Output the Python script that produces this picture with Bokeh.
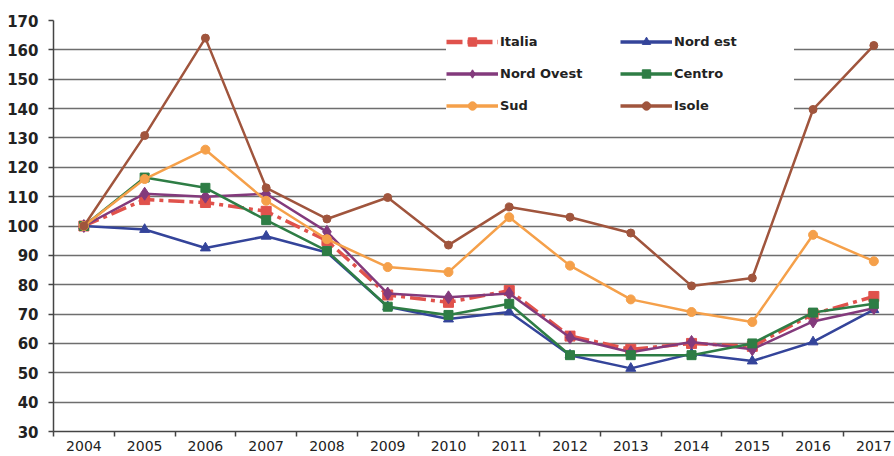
from bokeh.plotting import figure
from bokeh.models import Range1d, FixedTicker, Legend, LegendItem
from bokeh.embed import file_html
from bokeh.resources import INLINE

years = [2004, 2005, 2006, 2007, 2008, 2009, 2010, 2011, 2012, 2013, 2014, 2015, 2016, 2017]
italia = [100, 109, 108, 105, 95, 76.5, 74, 78, 62.5, 58, 60, 59, 70, 76]
nord_est = [100, 98.8, 92.5, 96.5, 91, 72.5, 68.3, 70.7, 56, 51.5, 56.5, 54, 60.5, 71.5]
nord_ovest = [100, 111, 110, 111, 98, 77, 75.7, 77, 62, 57, 60.5, 58, 67.5, 72]
centro = [100, 116.5, 113, 102, 91.5, 72.5, 69.7, 73.5, 56, 56, 56, 60, 70.5, 73.5]
sud = [100, 116, 126, 108.6, 95.5, 86, 84.3, 103, 86.5, 75, 70.7, 67.3, 97, 88]
isole = [100, 130.8, 164, 113, 102.4, 109.7, 93.5, 106.5, 103, 97.6, 79.6, 82.3, 139.7, 161.5]
y_ticks = [30, 40, 50, 60, 70, 80, 90, 100, 110, 120, 130, 140, 150, 160, 170]

p = figure(width=894, height=456, output_backend="svg", toolbar_location=None,
           x_range=Range1d(2003.5, 2017.34), y_range=Range1d(30, 170),
           min_border_left=53, min_border_right=0, min_border_top=20, min_border_bottom=25)
p.outline_line_color = None
p.background_fill_color = "white"
p.border_fill_color = "white"

p.xgrid.visible = False
p.ygrid.grid_line_color = "#6e6e6e"
p.ygrid.grid_line_width = 1.4

xa = p.xaxis[0]
xa.ticker = FixedTicker(ticks=years, minor_ticks=[y - 0.5 for y in years] + [2017.5])
xa.major_tick_out = 0
xa.major_tick_in = 0
xa.minor_tick_out = 5
xa.minor_tick_in = 0
xa.minor_tick_line_color = "#444444"
xa.minor_tick_line_width = 1.5
xa.axis_line_color = "#444444"
xa.axis_line_width = 1.5
xa.major_label_standoff = 4
xa.major_label_text_font = "DejaVu Sans"
xa.major_label_text_font_size = "14px"
xa.major_label_text_color = "#222222"

ya = p.yaxis[0]
ya.ticker = FixedTicker(ticks=y_ticks)
ya.minor_tick_out = 0
ya.minor_tick_in = 0
ya.major_tick_out = 5
ya.major_tick_in = 0
ya.major_tick_line_color = "#444444"
ya.major_tick_line_width = 1.5
ya.axis_line_color = "#444444"
ya.axis_line_width = 1.5
ya.major_label_standoff = 10
ya.major_label_text_font = "DejaVu Sans"
ya.major_label_text_font_style = "bold"
ya.major_label_text_font_size = "15px"
ya.major_label_text_color = "#222222"

series = [
    ("Italia", italia, "#e0524c", "square", 10, 3.5, "16 5 4 5"),
    ("Nord est", nord_est, "#34449a", "triangle", 10, 2.5, "solid"),
    ("Nord Ovest", nord_ovest, "#833a7c", "diamond", 13, 2.5, "solid"),
    ("Centro", centro, "#2e7d45", "square", 9, 2.5, "solid"),
    ("Sud", sud, "#f5a04a", "circle", 9, 2.5, "solid"),
    ("Isole", isole, "#a0553d", "circle", 8, 2.5, "solid"),
]

nan = float("nan")
items = {}
for name, vals, col, mk, sz, lw, dash in series:
    p.line(years, vals, line_color=col, line_width=lw, line_dash=dash)
    p.scatter(years, vals, marker=mk, size=sz, fill_color=col, line_color=col)
    # legend-only proxies (one NaN point, nothing drawn in the plot) with thicker key lines
    l1 = p.line([nan], [nan], line_color=col, line_width=lw + 1, line_dash=dash)
    l2 = p.scatter([nan], [nan], marker=mk, size=sz, fill_color=col, line_color=col)
    items[name] = LegendItem(label=name, renderers=[l1, l2])

legend_order = ["Italia", "Nord Ovest", "Sud", "Nord est", "Centro", "Isole"]
legend = Legend(items=[items[n] for n in legend_order], ncols=2, location=(393, 310),
                glyph_width=52, glyph_height=21, label_height=32, label_width=120,
                label_standoff=2, spacing=0, padding=2, margin=0,
                border_line_color=None, background_fill_color="white", background_fill_alpha=1,
                label_text_font="DejaVu Sans", label_text_font_style="bold",
                label_text_font_size="13px", label_text_color="#222222")
p.add_layout(legend, "center")

open("out.html", "w").write(file_html(p, INLINE))
